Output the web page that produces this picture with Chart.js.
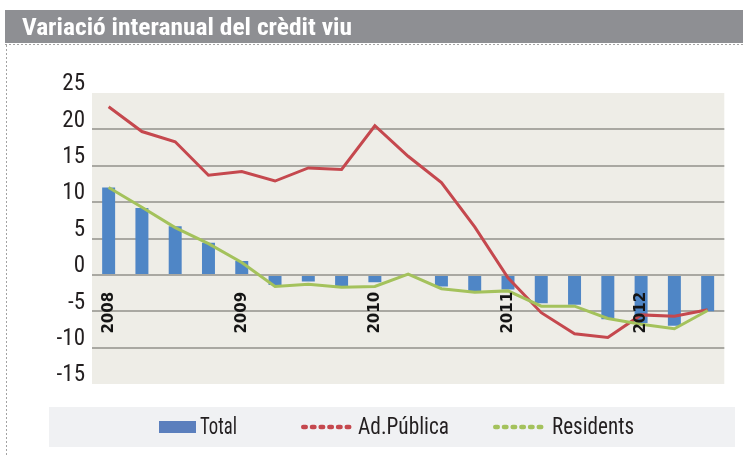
<!DOCTYPE html>
<html>
<head>
<meta charset="utf-8">
<script src="https://cdn.jsdelivr.net/npm/chart.js@4/dist/chart.umd.min.js"></script>
<style>
html,body{margin:0;padding:0;background:#fff;overflow:hidden}
#wrap{position:relative;width:743px;height:455px}
canvas{display:block}
</style>
</head>
<body>
<div id="wrap"><canvas id="c" width="743" height="455"></canvas></div>
<script>
// ---- data ----
const title = 'Variació interanual del crèdit viu';
const categories = ['2008','','','','2009','','','','2010','','','','2011','','','','2012','',''];
const seriesNames = ['Total', 'Ad.Pública', 'Residents'];
const total     = [12.0, 9.2, 6.7, 4.4, 1.9, -1.4, -0.9, -1.6, -1.0, 0.0, -1.6, -2.2, -2.0, -3.9, -4.1, -6.1, -6.6, -7.0, -5.0];
const adPublica = [23.1, 19.7, 18.3, 13.7, 14.2, 12.9, 14.7, 14.5, 20.5, 16.3, 12.7, 6.6, -0.4, -5.2, -8.1, -8.6, -5.5, -5.7, -4.8];
const residents = [12.0, 9.3, 6.5, 4.3, 1.7, -1.6, -1.3, -1.7, -1.6, 0.1, -1.9, -2.4, -2.2, -4.3, -4.3, -6.0, -6.8, -7.4, -4.9];
const yTicks = [25, 20, 15, 10, 5, 0, -5, -10, -15];

// ---- styles ----
const NARROW = '"Roboto Condensed", "Liberation Sans Narrow", "DejaVu Sans Condensed", sans-serif';
const BLUE = '#4f86c6';
const BLUE_LEG = '#5b7fbd';
const RED = '#c5484e';
const GREEN = '#a4c25c';
const TEXT = '#231f20';

// draw text scaled horizontally to a target width
function drawFitText(ctx, txt, x, y, width) {
  const w = ctx.measureText(txt).width;
  const sx = Math.max(0.8, Math.min(1.12, width / w));
  ctx.save();
  ctx.translate(x, y);
  ctx.scale(sx, 1);
  ctx.fillText(txt, 0, 0);
  ctx.restore();
}

const decor = {
  id: 'decor',
  beforeDraw(chart) {
    const {ctx, chartArea: a} = chart;
    ctx.save();
    ctx.fillStyle = '#ffffff';
    ctx.fillRect(0, 0, chart.width, chart.height);
    // title bar
    ctx.fillStyle = '#8e8f93';
    ctx.fillRect(5, 10, chart.width - 5, 33);
    // dashed frame
    ctx.strokeStyle = '#a3a3a3';
    ctx.lineWidth = 1;
    ctx.setLineDash([2, 2]);
    ctx.beginPath();
    ctx.moveTo(5, 44.5); ctx.lineTo(chart.width, 44.5);
    ctx.moveTo(6.5, 45); ctx.lineTo(6.5, chart.height);
    ctx.stroke();
    ctx.setLineDash([]);
    // title text
    ctx.fillStyle = '#ffffff';
    ctx.font = 'bold 24px ' + NARROW;
    ctx.textBaseline = 'alphabetic';
    ctx.textAlign = 'left';
    drawFitText(ctx, title, 22, 35, 330);
    // plot background
    ctx.fillStyle = '#eeede7';
    ctx.fillRect(a.left, a.top, a.right - a.left, a.bottom - a.top);
    // legend background
    ctx.fillStyle = '#f0f1f3';
    ctx.fillRect(49, 407, 686, 40);
    ctx.restore();
  },
  afterDraw(chart) {
    const {ctx} = chart;
    const ds = chart.data.datasets;
    const byLabel = l => ds.find(d => d.label === l);
    const cy = 427;
    const items = [
      {x: 159, w: 37, tx: 200, tw: 37},
      {x: 301, w: 52, tx: 358, tw: 91},
      {x: 493, w: 53, tx: 552, tw: 82}
    ];
    ctx.save();
    seriesNames.forEach((name, i) => {
      const d = byLabel(name);
      const it = items[i];
      if (d.type === 'bar') {
        ctx.fillStyle = BLUE_LEG;
        ctx.fillRect(it.x, cy - 6, it.w, 12);
      } else {
        ctx.strokeStyle = d.borderColor;
        ctx.lineWidth = 4.5;
        ctx.lineCap = 'round';
        ctx.setLineDash([2.5, 6.2]);
        ctx.beginPath();
        ctx.moveTo(it.x + 2.25, cy);
        ctx.lineTo(it.x + it.w - 2.25, cy);
        ctx.stroke();
        ctx.setLineDash([]);
      }
      ctx.fillStyle = TEXT;
      ctx.font = '23px ' + NARROW;
      ctx.textBaseline = 'middle';
      ctx.textAlign = 'left';
      drawFitText(ctx, name, it.tx, cy + 1, it.tw);
    });
    ctx.restore();
  }
};

new Chart(document.getElementById('c'), {
  type: 'bar',
  data: {
    labels: categories,
    datasets: [
      {type: 'line', label: seriesNames[2], data: residents, borderColor: GREEN, borderWidth: 3,
       pointRadius: 0, tension: 0, order: 1},
      {type: 'line', label: seriesNames[1], data: adPublica, borderColor: RED, borderWidth: 3,
       pointRadius: 0, tension: 0, order: 2},
      {type: 'bar', label: seriesNames[0], data: total, backgroundColor: BLUE,
       barPercentage: 0.39, categoryPercentage: 1, order: 3}
    ]
  },
  options: {
    responsive: false,
    animation: false,
    devicePixelRatio: 1,
    layout: {padding: {left: 52, right: 13, top: 93, bottom: 71}},
    plugins: {legend: {display: false}, title: {display: false}, tooltip: {enabled: false}},
    scales: {
      x: {
        type: 'category',
        position: {y: 0},
        offset: true,
        grid: {display: false, drawTicks: false},
        border: {display: false},
        ticks: {
          autoSkip: false, maxRotation: 90, minRotation: 90, padding: 17, z: 1,
          color: '#141414',
          font: {family: '"DejaVu Sans", sans-serif', weight: 'bold', size: 15}
        }
      },
      y: {
        min: -15, max: 25,
        position: 'left',
        grid: {
          color: c => (c.tick && (c.tick.value === 25 || c.tick.value === -15)) ? 'rgba(0,0,0,0)' : '#a9a8a2',
          lineWidth: 2,
          drawTicks: false
        },
        border: {display: false},
        ticks: {
          stepSize: 5, padding: 7, labelOffset: -8.5, color: TEXT,
          font: {family: NARROW, size: 23}
        },
        afterBuildTicks: s => { s.ticks = yTicks.map(v => ({value: v})); },
        afterFit: s => { s.width = 40; }
      }
    }
  },
  plugins: [decor]
});
</script>
</body>
</html>
